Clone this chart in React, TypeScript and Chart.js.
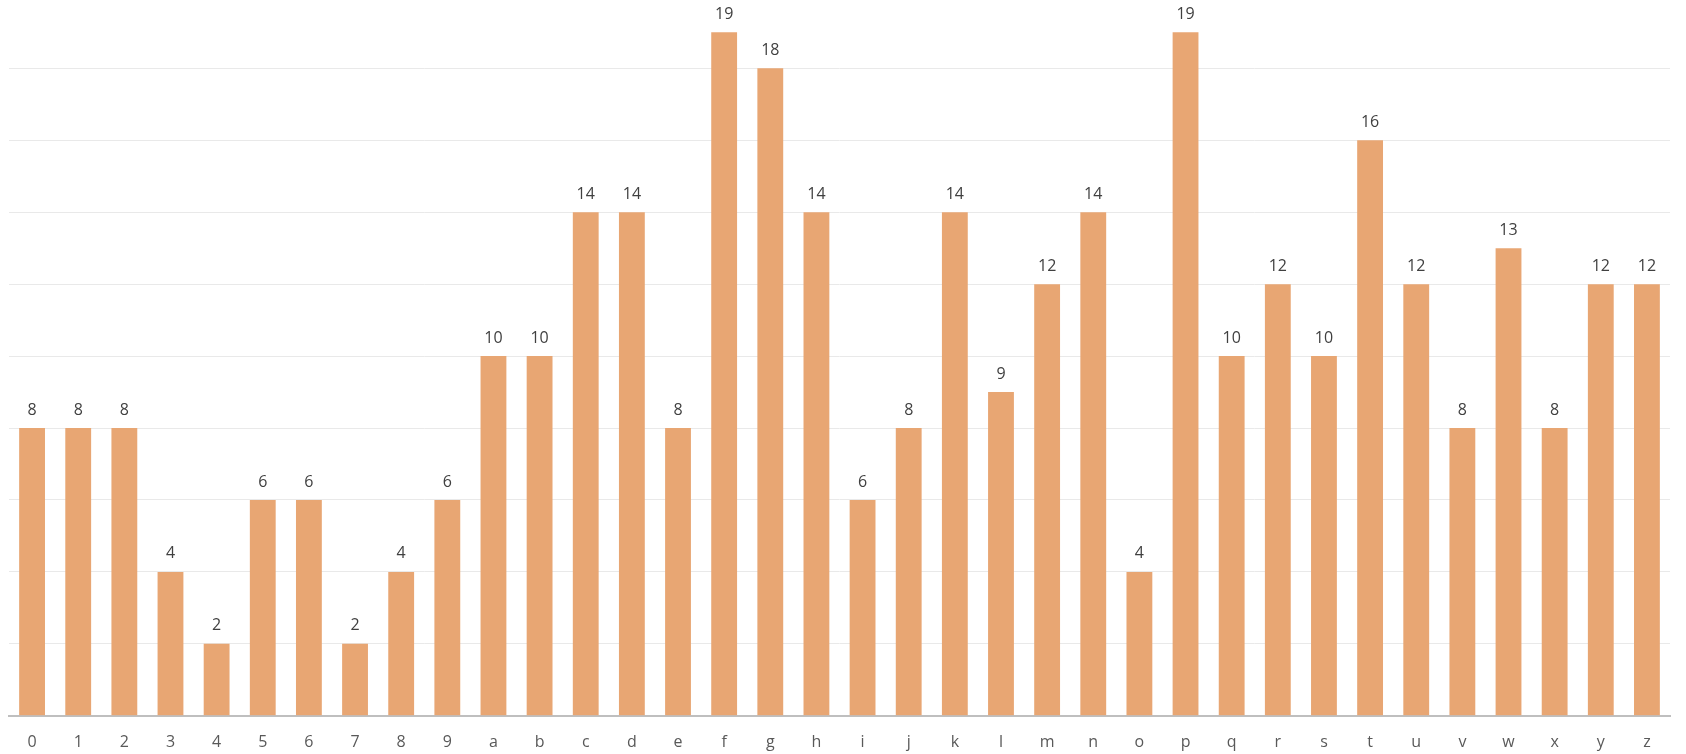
import React, { useEffect, useRef } from "react";
import { Chart, registerables } from "chart.js";

Chart.register(...registerables);

const categories = ["0","1","2","3","4","5","6","7","8","9","a","b","c","d","e","f","g","h","i","j","k","l","m","n","o","p","q","r","s","t","u","v","w","x","y","z"];
const counts = [8,8,8,4,2,6,6,2,4,6,10,10,14,14,8,19,18,14,6,8,14,9,12,14,4,19,10,12,10,16,12,8,13,8,12,12];
const yTicks = [0,2,4,6,8,10,12,14,16,18];

const FONT = "'Open Sans', 'Noto Sans', sans-serif";

const valueLabels = {
  id: "valueLabels",
  afterDatasetsDraw(chart: any) {
    const ctx = chart.ctx;
    const meta = chart.getDatasetMeta(0);
    ctx.save();
    ctx.font = `16px ${FONT}`;
    ctx.fillStyle = "#404040";
    ctx.textAlign = "center";
    ctx.textBaseline = "middle";
    meta.data.forEach((bar: any, i: number) => {
      ctx.fillText(String(counts[i]), bar.x, bar.y - 18);
    });
    ctx.restore();
  },
};

export default function App() {
  const ref = useRef<HTMLCanvasElement | null>(null);
  useEffect(() => {
    document.body.style.margin = "0";
    if (!ref.current) return;
    const chart = new Chart(ref.current, {
      type: "bar",
      data: {
        labels: categories,
        datasets: [
          {
            data: counts,
            backgroundColor: "rgba(232,166,115,1)",
            borderWidth: 0,
            barPercentage: 0.56,
            categoryPercentage: 1,
          },
        ],
      },
      plugins: [valueLabels],
      options: {
        responsive: false,
        animation: false,
        layout: { padding: { left: 9, right: 16, top: 0, bottom: -15 } },
        plugins: { legend: { display: false }, tooltip: { enabled: false } },
        scales: {
          x: {
            grid: { display: false, drawTicks: false },
            border: { display: true, color: "#bfbfbf", width: 2 },
            ticks: {
              color: "#595959",
              font: { family: FONT, size: 16 },
              padding: 17,
              maxRotation: 0,
              autoSkip: false,
            },
          },
          y: {
            min: 0,
            max: 19.9,
            afterBuildTicks: (axis: any) => {
              axis.ticks = yTicks.map((v) => ({ value: v }));
            },
            grid: { color: "#e9e9e9", lineWidth: 1, drawTicks: false },
            border: { display: false },
            ticks: { display: false },
          },
        },
      },
    });
    return () => chart.destroy();
  }, []);
  return (
    <div style={{ width: 1686, height: 754, background: "#fff" }}>
      <canvas ref={ref} width={1686} height={754} style={{ display: "block" }} />
    </div>
  );
}
